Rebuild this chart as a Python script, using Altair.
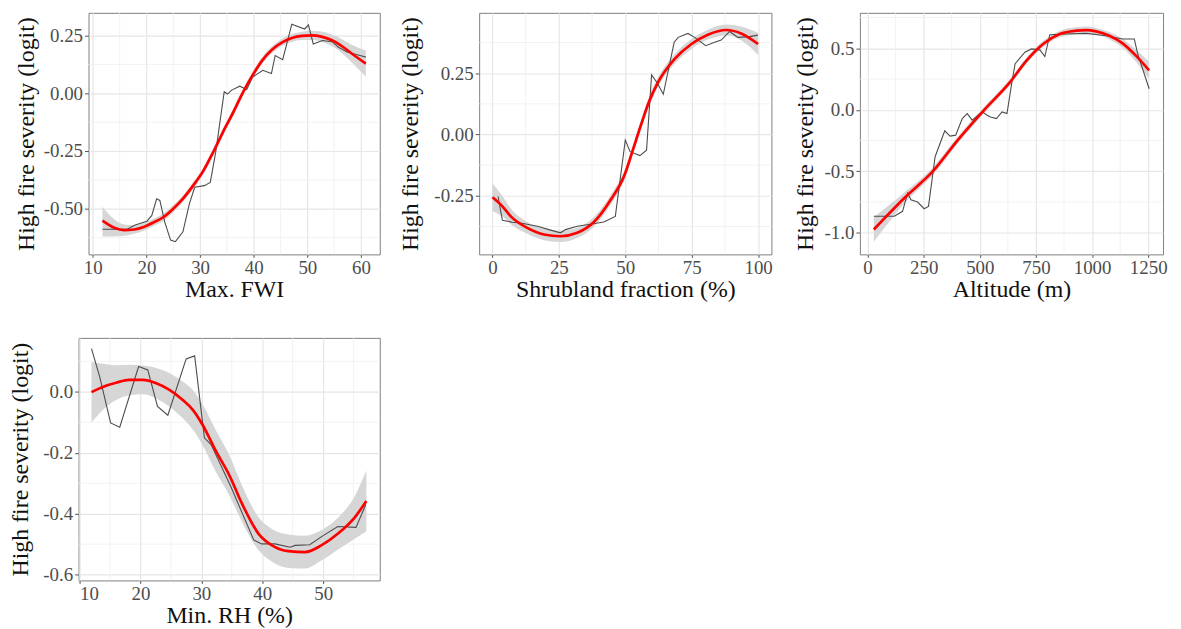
import altair as alt
import pandas as pd

# ---------------- Panel 1: Max. FWI ----------------
fwi_raw_x = [11.8, 16.4, 17.9, 20.1, 21.0, 21.9, 22.5, 23.4, 24.5, 25.4, 26.8, 28.0, 29.0, 30.8, 31.9,
             32.9, 34.5, 35.1, 35.9, 37.4, 38.7, 39.8, 41.7, 43.3, 44.0, 45.4, 47.1, 49.5, 50.2, 51.1,
             52.8, 54.6, 55.8, 57.4, 59.8, 60.9]
fwi_raw_y = [-0.589, -0.589, -0.571, -0.554, -0.529, -0.457, -0.464, -0.557, -0.636, -0.643, -0.600,
             -0.479, -0.407, -0.400, -0.386, -0.257, 0.007, -0.003, 0.014, 0.031, 0.017, 0.071, 0.100,
             0.086, 0.164, 0.146, 0.300, 0.279, 0.297, 0.214, 0.229, 0.224, 0.200, 0.179, 0.164, 0.157]
fwi_fit_x = [11.8, 14.0, 15.8, 17.7, 19.5, 21.3, 23.2, 25.0, 26.9, 28.7, 30.6, 32.4, 34.2, 36.1, 37.9,
             39.8, 41.6, 43.4, 45.3, 47.1, 49.0, 50.8, 52.6, 54.5, 56.3, 58.2, 60.9]
fwi_fit_y = [-0.552, -0.583, -0.593, -0.590, -0.579, -0.560, -0.536, -0.500, -0.454, -0.400, -0.336,
             -0.257, -0.171, -0.086, 0.000, 0.079, 0.143, 0.189, 0.221, 0.240, 0.249, 0.251, 0.246,
             0.231, 0.207, 0.174, 0.129]
fwi_lo = [-0.620, -0.620, -0.618, -0.609, -0.596, -0.576, -0.552, -0.516, -0.469, -0.415, -0.351,
          -0.272, -0.186, -0.101, -0.015, 0.064, 0.128, 0.174, 0.205, 0.223, 0.231, 0.231, 0.224,
          0.206, 0.177, 0.136, 0.072]
fwi_hi = [-0.492, -0.546, -0.568, -0.571, -0.562, -0.544, -0.520, -0.484, -0.439, -0.385, -0.321,
          -0.242, -0.156, -0.071, 0.015, 0.094, 0.158, 0.204, 0.237, 0.257, 0.267, 0.271, 0.268,
          0.256, 0.237, 0.212, 0.186]

# ---------------- Panel 2: Shrubland fraction ----------------
shrub_raw_x = [2.1, 3.75, 7.5, 10.6, 16.9, 21.25, 25.6, 27.5, 31.9, 37.5, 41.9, 46.25, 50.0, 51.8,
               55.5, 58.0, 59.9, 62.1, 64.3, 68.4, 69.9, 73.6, 76.1, 80.3, 83.6, 86.1, 89.3, 92.4,
               96.8, 99.9]
shrub_raw_y = [-0.253, -0.350, -0.358, -0.361, -0.374, -0.388, -0.401, -0.388, -0.374, -0.365,
               -0.357, -0.334, -0.023, -0.070, -0.086, -0.064, 0.243, 0.209, 0.164, 0.376, 0.396,
               0.412, 0.396, 0.362, 0.376, 0.385, 0.420, 0.396, 0.399, 0.405]
shrub_fit_x = [0, 3.75, 6.9, 13.1, 19.4, 25.6, 31.9, 38.1, 44.4, 49.9, 52.5, 56.1, 59.0, 62.4, 68.6,
               74.9, 81.1, 88.0, 93.6, 100]
shrub_fit_y = [-0.256, -0.293, -0.334, -0.381, -0.408, -0.415, -0.401, -0.358, -0.268, -0.160,
               -0.075, 0.045, 0.135, 0.214, 0.308, 0.369, 0.407, 0.426, 0.412, 0.369]
shrub_lo = [-0.313, -0.335, -0.366, -0.405, -0.431, -0.438, -0.422, -0.378, -0.288, -0.180, -0.095,
            0.025, 0.115, 0.194, 0.288, 0.349, 0.387, 0.404, 0.384, 0.324]
shrub_hi = [-0.199, -0.251, -0.302, -0.357, -0.385, -0.392, -0.380, -0.338, -0.248, -0.140, -0.055,
            0.065, 0.155, 0.234, 0.328, 0.389, 0.427, 0.448, 0.440, 0.414]

# ---------------- Panel 3: Altitude ----------------
alt_raw_x = [28, 119.5, 156, 178.6, 193, 223, 252, 271.5, 301, 344, 367.5, 392.6, 422, 444, 466,
             510.6, 532.8, 547.5, 574, 599, 621, 643, 657, 671.5, 701, 730.5, 767.4, 789.5, 811.7,
             878, 974, 1062.6, 1136, 1188, 1203, 1254]
alt_raw_y = [-0.865, -0.865, -0.825, -0.677, -0.731, -0.750, -0.804, -0.785, -0.381, -0.171, -0.214,
             -0.206, -0.071, -0.031, -0.084, -0.017, -0.044, -0.058, -0.071, -0.017, -0.031, 0.225,
             0.373, 0.406, 0.468, 0.495, 0.487, 0.433, 0.610, 0.616, 0.621, 0.602, 0.575, 0.575,
             0.454, 0.171]
alt_fit_x = [28, 164, 296.6, 400, 518, 634.6, 708, 782, 856, 930, 974, 1018, 1077, 1136, 1195, 1254]
alt_fit_y = [-0.973, -0.717, -0.488, -0.250, -0.004, 0.225, 0.400, 0.535, 0.616, 0.643, 0.648,
             0.637, 0.602, 0.540, 0.440, 0.320]
alt_lo = [-1.073, -0.762, -0.520, -0.278, -0.030, 0.199, 0.374, 0.509, 0.589, 0.615, 0.620, 0.609,
          0.572, 0.505, 0.390, 0.250]
alt_hi = [-0.873, -0.672, -0.456, -0.222, 0.022, 0.251, 0.426, 0.561, 0.643, 0.671, 0.676, 0.665,
          0.632, 0.575, 0.490, 0.390]

# ---------------- Panel 4: Min. RH ----------------
rh_raw_x = [11.96, 13.3, 15.1, 16.6, 19.7, 21.2, 22.8, 24.5, 27.5, 28.9, 30.5, 31.6, 34.8, 38.6,
            39.9, 42.1, 44.6, 45.4, 47.8, 50.0, 52.4, 55.4, 57.0]
rh_raw_y = [0.142, 0.050, -0.102, -0.116, 0.083, 0.072, -0.048, -0.077, 0.108, 0.118, -0.151,
            -0.173, -0.309, -0.486, -0.499, -0.499, -0.510, -0.504, -0.502, -0.472, -0.442, -0.445,
            -0.370]
rh_fit_x = [11.96, 13.9, 16.0, 18.2, 20.4, 22.6, 24.7, 26.9, 28.6, 30.2, 32.4, 34.6, 36.7, 39.4,
            41.6, 44.3, 47.0, 49.7, 52.4, 55.2, 57.1]
rh_fit_y = [-0.001, 0.017, 0.030, 0.039, 0.039, 0.028, 0.007, -0.026, -0.059, -0.108, -0.195,
            -0.274, -0.368, -0.466, -0.504, -0.523, -0.526, -0.504, -0.466, -0.412, -0.358]
rh_lo = [-0.101, -0.058, -0.027, -0.011, -0.008, -0.022, -0.048, -0.086, -0.124, -0.175, -0.263,
         -0.340, -0.428, -0.520, -0.558, -0.578, -0.580, -0.554, -0.518, -0.482, -0.458]
rh_hi = [0.099, 0.092, 0.087, 0.089, 0.086, 0.078, 0.062, 0.034, 0.006, -0.041, -0.127, -0.208,
         -0.308, -0.412, -0.450, -0.468, -0.472, -0.454, -0.414, -0.342, -0.258]

Y_TITLE = "High fire severity (logit)"

FONT = "Liberation Serif"
BAND = "#d6d6d6"
RAW = "#4d4d4d"
FIT = "#ff0000"
GRID = "#e6e6e6"
GRID_MINOR = "#eeeeee"
MINUS_FIX = "replace(datum.label, '\u2212', '-')"


def make_axis(values, fmt, orient, tpad):
    if orient == "bottom":
        tick, lpad = 3, 1
    else:
        tick, lpad = 4, 2
    return alt.Axis(
        values=values, format=fmt, labelExpr=MINUS_FIX,
        grid=True, gridColor=GRID, gridWidth=1.2,
        domain=False, ticks=True, tickColor="#555555", tickSize=tick, tickWidth=1,
        labelFont=FONT, labelFontSize=19, labelColor="#4d4d4d", labelPadding=lpad,
        titleFont=FONT, titleFontSize=24, titleFontWeight="normal", titleColor="#111111",
        titlePadding=tpad, orient=orient,
    )


def panel(raw_x, raw_y, fit_x, fit_y, lo, hi, xdom, ydom, xvals, yvals, xminor, yminor,
          xtitle, xfmt, yfmt, w, h, ytpad):
    raw = pd.DataFrame({"x": raw_x, "y": raw_y})
    fit = pd.DataFrame({"x": fit_x, "y": fit_y, "lo": lo, "hi": hi})
    xm = pd.DataFrame({"x": xminor})
    ym = pd.DataFrame({"y": yminor})
    xs = alt.Scale(domain=xdom, nice=False, zero=False)
    ys = alt.Scale(domain=ydom, nice=False, zero=False)
    xaxis = make_axis(xvals, xfmt, "bottom", 0)
    yaxis = make_axis(yvals, yfmt, "left", ytpad)
    X = alt.X("x:Q", scale=xs, axis=xaxis, title=xtitle)
    Y = alt.Y("y:Q", scale=ys, axis=yaxis, title=Y_TITLE)
    gx = alt.Chart(xm).mark_rule(color=GRID_MINOR, strokeWidth=0.8).encode(x=X)
    gy = alt.Chart(ym).mark_rule(color=GRID_MINOR, strokeWidth=0.8).encode(y=Y)
    band = alt.Chart(fit).mark_area(color=BAND, opacity=1, interpolate="monotone").encode(
        x=X, y=alt.Y("lo:Q", scale=ys, axis=yaxis, title=Y_TITLE), y2="hi:Q")
    rawl = alt.Chart(raw).mark_line(color=RAW, strokeWidth=1.1).encode(x=X, y=Y)
    fitl = alt.Chart(fit).mark_line(color=FIT, strokeWidth=2.7, interpolate="monotone").encode(x=X, y=Y)
    return alt.layer(gx, gy, band, rawl, fitl).properties(width=w, height=h)


def spacer(w):
    return alt.Chart(pd.DataFrame({"a": [0]})).mark_point(opacity=0).encode(
        x=alt.X("a:Q", axis=None), y=alt.Y("a:Q", axis=None)
    ).properties(width=w, height=10, view=alt.ViewBackground(stroke="transparent"))


p1 = panel(fwi_raw_x, fwi_raw_y, fwi_fit_x, fwi_fit_y, fwi_lo, fwi_hi,
           [9.2, 63.5], [-0.698, 0.349], [10, 20, 30, 40, 50, 60], [0.25, 0.0, -0.25, -0.5],
           [15, 25, 35, 45, 55], [0.125, -0.125, -0.375, -0.625],
           "Max. FWI", "d", ".2f", 293, 243, 5)
p2 = panel(shrub_raw_x, shrub_raw_y, shrub_fit_x, shrub_fit_y, shrub_lo, shrub_hi,
           [-5, 105], [-0.489, 0.496], [0, 25, 50, 75, 100], [0.25, 0.0, -0.25],
           [12.5, 37.5, 62.5, 87.5], [0.375, 0.125, -0.125, -0.375],
           "Shrubland fraction (%)", "d", ".2f", 294, 243, 11)
p3 = panel(alt_raw_x, alt_raw_y, alt_fit_x, alt_fit_y, alt_lo, alt_hi,
           [-34, 1316], [-1.175, 0.788], [0, 250, 500, 750, 1000, 1250], [0.5, 0.0, -0.5, -1.0],
           [125, 375, 625, 875, 1125], [0.75, 0.25, -0.25, -0.75],
           "Altitude (m)", "d", ".1f", 305, 243, 7)
p4 = panel(rh_raw_x, rh_raw_y, rh_fit_x, rh_fit_y, rh_lo, rh_hi,
           [9.84, 59.3], [-0.619, 0.177], [10, 20, 30, 40, 50], [0.0, -0.2, -0.4, -0.6],
           [15, 25, 35, 45, 55], [0.1, -0.1, -0.3, -0.5],
           "Min. RH (%)", "d", ".1f", 303, 244, 10)

top_row = alt.hconcat(spacer(10), p1, spacer(100), p2, spacer(89), p3, spacing=0, bounds="flush")

chart = alt.vconcat(top_row, p4, spacing=35, bounds="full").properties(
    padding={"left": 0, "top": 2, "right": 5, "bottom": 0},
    background="white",
).configure_view(
    stroke="#7f7f7f", strokeWidth=1
)

chart.save("out.html", embed_options={"renderer": "svg", "actions": False})
